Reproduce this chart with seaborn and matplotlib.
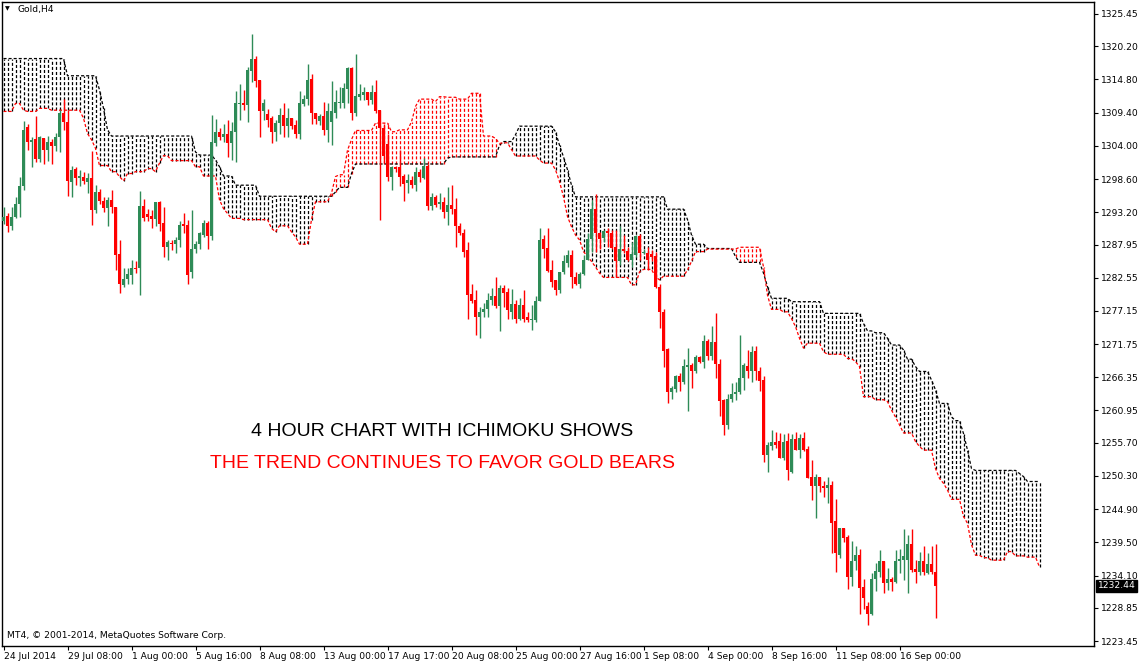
import numpy as np
import pandas as pd
import matplotlib
matplotlib.use("Agg")
import matplotlib.pyplot as plt
import matplotlib.transforms as mtransforms
import seaborn as sns

# ---------------- data (Gold, H4 candles) ----------------
opens = [
    1291.7, 1292.6, 1290.9, 1292.4, 1294.5, 1297.5, 1307.0, 1304.7, 1305.1, 1301.9,
    1305.3, 1303.3, 1304.7, 1303.9, 1305.4, 1309.3, 1307.9, 1298.2, 1300.2, 1298.7,
    1298.9, 1298.2, 1298.8, 1293.6, 1296.5, 1295.1, 1293.9, 1295.2, 1294.0, 1286.4,
    1281.4, 1282.3, 1283.0, 1284.2, 1284.1, 1294.2, 1292.9, 1292.6, 1292.1, 1294.8,
    1291.5, 1287.6, 1288.2, 1288.0, 1288.7, 1291.3, 1291.1, 1283.5, 1287.2, 1288.0,
    1289.5, 1291.5, 1289.3, 1304.5, 1306.3, 1305.5, 1306.0, 1304.4, 1306.3, 1310.8,
    1311.0, 1310.7, 1316.2, 1318.1, 1314.7, 1309.7, 1309.2, 1308.5, 1306.3, 1307.7,
    1309.0, 1307.2, 1308.6, 1307.4, 1305.9, 1310.8, 1311.7, 1314.8, 1309.3, 1308.1,
    1308.9, 1306.6, 1307.8, 1309.4, 1310.9, 1311.0, 1313.2, 1316.6, 1309.4, 1312.0,
    1312.3, 1312.7, 1311.5, 1312.8, 1309.8, 1306.9, 1304.3, 1299.0, 1300.6, 1300.5,
    1299.1, 1298.0, 1298.5, 1297.7, 1299.8, 1298.8, 1300.8, 1294.2, 1295.7, 1294.5,
    1294.9, 1293.3, 1294.4, 1293.8, 1291.0, 1289.9, 1287.0, 1279.9, 1278.9, 1276.2,
    1277.0, 1277.4, 1278.9, 1279.6, 1278.0, 1280.9, 1280.3, 1277.0, 1278.3, 1275.8,
    1278.1, 1276.2, 1275.7, 1275.7, 1278.8, 1288.9, 1287.4, 1283.8, 1282.1, 1280.5,
    1283.4, 1285.0, 1286.2, 1282.7, 1281.5, 1283.1, 1285.5, 1288.8, 1293.8, 1289.8,
    1289.0, 1290.2, 1289.9, 1287.6, 1285.2, 1287.2, 1286.9, 1285.4, 1286.2, 1289.3,
    1286.5, 1286.6, 1286.4, 1286.1, 1281.1, 1277.0, 1270.9, 1263.9, 1264.4, 1266.6,
    1265.6, 1268.1, 1268.4, 1267.3, 1269.6, 1268.9, 1272.3, 1269.8, 1272.1, 1268.5,
    1262.7, 1258.6, 1262.8, 1263.6, 1263.9, 1266.3, 1268.2, 1267.3, 1270.6, 1267.4,
    1265.9, 1253.7, 1255.2, 1255.8, 1256.0, 1253.3, 1256.0, 1251.0, 1256.3, 1254.5,
    1256.4, 1254.7, 1250.1, 1248.6, 1250.1, 1248.7, 1248.4, 1248.8, 1242.9, 1237.4,
    1241.8, 1240.3, 1233.9, 1236.4, 1237.4, 1232.3, 1229.1, 1227.8, 1233.5, 1234.7,
    1236.4, 1232.9, 1233.5, 1233.0, 1236.4, 1236.6, 1236.7, 1239.2, 1235.2, 1234.7,
    1236.5, 1234.5, 1236.0, 1234.6,
]
highs = [
    1294.0, 1293.1, 1294.0, 1295.6, 1299.0, 1308.0, 1307.6, 1305.4, 1308.9, 1305.6,
    1305.3, 1305.6, 1305.1, 1306.1, 1309.9, 1311.7, 1309.9, 1300.8, 1300.6, 1300.0,
    1299.8, 1299.6, 1303.2, 1297.6, 1296.9, 1295.7, 1295.6, 1296.8, 1294.1, 1288.7,
    1284.2, 1284.1, 1285.4, 1285.3, 1296.6, 1295.4, 1293.7, 1293.6, 1294.9, 1295.0,
    1294.1, 1288.7, 1288.7, 1289.2, 1291.7, 1293.1, 1291.9, 1293.6, 1288.6, 1290.0,
    1291.9, 1291.8, 1309.0, 1308.4, 1306.9, 1307.6, 1308.2, 1307.8, 1313.0, 1314.1,
    1313.1, 1316.9, 1322.2, 1318.6, 1314.7, 1311.6, 1310.0, 1308.9, 1308.2, 1310.1,
    1310.9, 1310.1, 1308.6, 1308.2, 1313.0, 1312.3, 1317.3, 1315.7, 1309.4, 1309.2,
    1311.2, 1310.9, 1314.6, 1313.1, 1313.6, 1314.2, 1316.9, 1316.9, 1318.9, 1314.1,
    1313.6, 1312.8, 1313.9, 1314.7, 1309.8, 1307.6, 1306.0, 1300.7, 1300.7, 1303.3,
    1299.4, 1299.5, 1299.1, 1300.6, 1300.3, 1302.0, 1301.0, 1296.3, 1296.0, 1296.3,
    1295.7, 1297.3, 1297.6, 1295.5, 1291.4, 1290.4, 1288.4, 1281.5, 1280.6, 1277.8,
    1278.5, 1280.0, 1280.8, 1282.6, 1281.4, 1281.4, 1280.8, 1280.7, 1278.9, 1279.2,
    1280.5, 1276.9, 1278.1, 1279.5, 1290.6, 1289.5, 1290.6, 1285.5, 1282.2, 1283.5,
    1286.2, 1287.1, 1287.1, 1283.5, 1283.5, 1286.2, 1289.8, 1295.2, 1296.2, 1290.0,
    1290.3, 1290.6, 1290.3, 1290.3, 1291.0, 1289.5, 1287.6, 1288.4, 1289.5, 1289.7,
    1287.2, 1287.6, 1287.1, 1286.8, 1281.6, 1277.4, 1271.1, 1264.9, 1266.7, 1267.1,
    1269.4, 1271.1, 1268.6, 1270.0, 1269.8, 1273.2, 1272.5, 1274.7, 1276.8, 1269.3,
    1262.8, 1263.7, 1265.4, 1265.6, 1273.2, 1268.7, 1270.8, 1271.4, 1271.4, 1268.0,
    1266.5, 1255.9, 1257.8, 1257.5, 1257.3, 1257.1, 1257.3, 1257.1, 1257.5, 1257.2,
    1257.5, 1255.1, 1252.9, 1250.6, 1250.1, 1249.4, 1250.1, 1249.4, 1246.5, 1241.9,
    1241.9, 1240.7, 1239.8, 1238.9, 1238.4, 1233.6, 1229.8, 1234.5, 1236.1, 1238.3,
    1236.5, 1235.3, 1233.9, 1238.3, 1238.4, 1241.7, 1240.7, 1241.6, 1236.6, 1238.0,
    1238.9, 1237.8, 1238.9, 1239.2,
]
lows = [
    1291.3, 1290.0, 1290.3, 1292.2, 1292.4, 1296.8, 1303.3, 1300.6, 1301.4, 1301.4,
    1301.0, 1301.5, 1301.0, 1303.2, 1303.0, 1306.5, 1295.8, 1295.6, 1297.7, 1297.5,
    1297.8, 1296.3, 1291.2, 1293.0, 1294.5, 1293.3, 1290.9, 1293.0, 1283.8, 1280.1,
    1281.1, 1281.5, 1281.5, 1283.3, 1279.7, 1291.8, 1291.7, 1290.7, 1290.9, 1290.2,
    1286.0, 1285.4, 1287.1, 1286.5, 1287.6, 1289.8, 1281.5, 1282.5, 1286.5, 1287.3,
    1289.2, 1287.3, 1288.7, 1304.0, 1305.0, 1304.7, 1302.2, 1301.7, 1301.4, 1308.2,
    1309.9, 1307.8, 1314.4, 1313.6, 1305.4, 1308.2, 1307.0, 1304.4, 1304.8, 1306.0,
    1305.4, 1305.4, 1306.8, 1305.2, 1305.1, 1310.5, 1310.6, 1307.6, 1307.6, 1307.4,
    1305.8, 1304.7, 1304.1, 1308.5, 1310.1, 1310.1, 1310.9, 1308.2, 1308.8, 1311.4,
    1311.5, 1310.6, 1310.8, 1309.3, 1291.9, 1301.2, 1298.3, 1296.8, 1299.8, 1297.4,
    1295.1, 1296.4, 1297.1, 1296.6, 1298.2, 1298.6, 1293.5, 1293.6, 1294.1, 1293.8,
    1292.2, 1291.1, 1292.9, 1287.5, 1289.5, 1286.0, 1275.8, 1278.4, 1273.2, 1272.7,
    1276.2, 1276.2, 1278.1, 1277.7, 1273.8, 1277.8, 1275.9, 1275.9, 1275.2, 1275.7,
    1275.4, 1275.4, 1274.0, 1275.4, 1278.7, 1285.7, 1283.5, 1281.1, 1279.7, 1280.1,
    1283.1, 1284.3, 1280.8, 1281.4, 1280.8, 1283.0, 1285.4, 1286.8, 1286.8, 1287.3,
    1288.3, 1287.6, 1287.3, 1282.7, 1284.6, 1286.5, 1285.2, 1284.3, 1286.0, 1285.4,
    1286.4, 1283.8, 1285.3, 1280.8, 1274.3, 1268.0, 1262.1, 1262.8, 1263.9, 1264.2,
    1265.3, 1260.9, 1264.6, 1267.1, 1268.7, 1267.8, 1269.1, 1269.1, 1266.2, 1260.1,
    1256.9, 1258.0, 1262.4, 1262.7, 1263.7, 1264.3, 1266.3, 1265.6, 1265.9, 1264.2,
    1252.5, 1251.0, 1254.5, 1254.8, 1253.3, 1252.9, 1249.6, 1250.8, 1254.5, 1253.3,
    1254.4, 1249.9, 1246.4, 1243.5, 1247.7, 1246.8, 1245.9, 1237.7, 1234.6, 1236.9,
    1239.6, 1231.9, 1232.4, 1235.0, 1227.8, 1228.6, 1226.0, 1227.7, 1231.6, 1233.9,
    1231.3, 1231.7, 1231.6, 1232.9, 1234.5, 1233.4, 1231.3, 1234.7, 1232.9, 1234.2,
    1234.2, 1234.3, 1234.3, 1227.2,
]
closes = [
    1292.5, 1290.9, 1292.4, 1294.5, 1297.5, 1306.6, 1304.7, 1305.0, 1301.9, 1305.4,
    1303.3, 1304.7, 1303.9, 1305.5, 1309.4, 1307.8, 1298.3, 1300.1, 1298.8, 1299.1,
    1298.3, 1298.8, 1293.6, 1296.5, 1295.1, 1293.9, 1295.2, 1294.0, 1286.2, 1281.5,
    1282.4, 1283.1, 1284.2, 1284.0, 1294.2, 1292.3, 1292.5, 1292.1, 1294.8, 1291.3,
    1287.6, 1288.4, 1288.0, 1288.7, 1291.1, 1291.0, 1283.0, 1287.3, 1288.0, 1289.8,
    1291.5, 1289.3, 1304.6, 1306.3, 1305.5, 1306.0, 1304.4, 1306.4, 1310.9, 1311.0,
    1310.6, 1316.3, 1318.1, 1314.5, 1309.7, 1310.9, 1308.2, 1306.3, 1307.7, 1309.0,
    1307.2, 1308.6, 1307.2, 1305.9, 1310.9, 1311.7, 1314.7, 1309.3, 1308.3, 1308.9,
    1306.6, 1309.6, 1309.6, 1311.2, 1311.2, 1313.4, 1316.6, 1309.4, 1312.1, 1312.5,
    1312.7, 1311.5, 1312.8, 1309.6, 1306.9, 1302.4, 1299.0, 1300.6, 1300.2, 1298.9,
    1297.8, 1298.5, 1297.7, 1299.8, 1298.9, 1300.8, 1294.2, 1295.7, 1294.4, 1294.9,
    1293.3, 1294.4, 1293.8, 1290.9, 1289.9, 1286.8, 1279.7, 1278.8, 1276.2, 1277.0,
    1277.4, 1278.9, 1279.6, 1278.0, 1280.8, 1280.1, 1277.3, 1278.3, 1275.8, 1278.1,
    1275.9, 1275.7, 1275.8, 1278.8, 1288.7, 1287.3, 1283.7, 1281.8, 1280.6, 1283.5,
    1285.2, 1286.2, 1282.6, 1281.5, 1283.1, 1285.5, 1288.8, 1293.7, 1289.8, 1288.8,
    1290.2, 1289.9, 1287.4, 1285.2, 1287.3, 1286.9, 1285.4, 1286.4, 1289.3, 1286.6,
    1286.7, 1285.4, 1285.9, 1281.0, 1276.9, 1270.7, 1263.9, 1264.6, 1266.5, 1265.6,
    1268.2, 1268.4, 1267.4, 1269.6, 1268.9, 1272.3, 1269.8, 1272.1, 1268.5, 1262.5,
    1258.6, 1262.9, 1263.7, 1264.0, 1266.3, 1268.4, 1267.3, 1270.5, 1267.4, 1265.8,
    1253.7, 1255.3, 1255.9, 1255.3, 1253.3, 1255.9, 1251.2, 1256.3, 1254.6, 1256.4,
    1254.5, 1250.0, 1248.6, 1250.1, 1248.6, 1248.4, 1248.8, 1242.7, 1237.7, 1241.8,
    1240.2, 1233.9, 1236.5, 1237.4, 1232.1, 1230.4, 1227.9, 1233.5, 1234.8, 1236.4,
    1232.9, 1233.5, 1233.1, 1236.5, 1236.8, 1237.2, 1239.2, 1235.0, 1234.7, 1236.5,
    1234.6, 1236.0, 1234.6, 1232.44,
]

# Ichimoku Senkou Span A (red) and Span B (black), read as runs of equal level
span_a_levels = [
    1309.6, 1310.9, 1309.8, 1309.6, 1310.1, 1309.8, 1308.5, 1306.0, 1305.0, 1303.6,
    1300.8, 1299.8, 1299.0, 1298.3, 1299.5, 1299.8, 1300.3, 1299.8, 1301.2, 1302.4,
    1301.6, 1300.6, 1299.1, 1295.2, 1293.8, 1293.0, 1292.2, 1292.0, 1290.6, 1290.0,
    1291.0, 1290.0, 1289.2, 1288.0, 1292.0, 1294.9, 1296.3, 1299.0, 1299.3, 1303.3,
    1305.0, 1306.5, 1307.7, 1306.3, 1306.6, 1307.9, 1310.4, 1311.6, 1311.2, 1312.0,
    1311.9, 1311.6, 1312.55, 1305.6, 1305.2, 1304.4, 1304.5, 1303.4, 1302.35, 1301.7,
    1301.2, 1300.1, 1298.2, 1295.7, 1292.5, 1290.85, 1289.5, 1288.7, 1286.8, 1286.0,
    1285.2, 1284.3, 1283.3, 1282.6, 1281.4, 1283.5, 1283.9, 1282.7, 1282.2, 1282.8,
    1283.8, 1285.2, 1286.8, 1287.2, 1287.5, 1284.3, 1279.7, 1277.4, 1277.0, 1275.9,
    1274.6, 1272.7, 1271.1, 1271.9, 1270.5, 1270.1, 1269.4, 1268.9, 1268.1, 1263.2,
    1262.7, 1262.4, 1261.0, 1259.9, 1258.6, 1257.3, 1255.9, 1255.1, 1254.5, 1251.5,
    1249.9, 1249.1, 1248.0, 1246.5, 1243.7, 1242.6, 1239.1, 1237.4, 1237.0, 1236.6,
    1238.0, 1237.3, 1237.1, 1235.5,
]
span_a_lengths = [
    3, 2, 1, 3, 3, 8, 1, 1, 1, 1,
    3, 2, 1, 1, 2, 3, 2, 1, 1, 2,
    6, 2, 4, 1, 1, 1, 3, 7, 1, 1,
    3, 1, 1, 3, 1, 4, 1, 1, 2, 1,
    1, 5, 4, 2, 3, 1, 1, 4, 1, 2,
    3, 3, 3, 3, 1, 1, 2, 1, 6, 1,
    3, 1, 1, 1, 1, 1, 1, 1, 1, 1,
    1, 1, 1, 7, 2, 1, 3, 1, 1, 6,
    1, 1, 3, 8, 6, 1, 1, 3, 2, 1,
    1, 1, 1, 4, 1, 5, 2, 1, 1, 3,
    3, 1, 1, 1, 1, 3, 1, 1, 3, 1,
    1, 1, 1, 3, 1, 1, 1, 2, 2, 4,
    2, 3, 3, 1,
]
span_b_levels = [
    1318.2, 1315.4, 1313.1, 1310.1, 1306.6, 1305.6, 1303.0, 1302.5, 1301.7, 1300.6,
    1299.1, 1297.6, 1295.8, 1296.5, 1297.25, 1299.5, 1301.05, 1302.0, 1302.2, 1304.1,
    1304.7, 1305.8, 1307.2, 1306.3, 1304.1, 1302.2, 1300.1, 1297.6, 1295.7, 1293.7,
    1292.0, 1289.5, 1288.0, 1287.3, 1286.0, 1285.05, 1283.3, 1281.1, 1279.2, 1278.65,
    1276.75, 1275.1, 1273.9, 1273.6, 1272.7, 1271.6, 1270.8, 1269.3, 1268.1, 1267.3,
    1265.9, 1264.3, 1262.1, 1259.9, 1259.3, 1257.2, 1254.5, 1251.5, 1251.2, 1250.7,
    1250.2, 1249.4,
]
span_b_lengths = [
    16, 8, 1, 1, 1, 21, 1, 4, 1, 1,
    3, 6, 19, 1, 3, 1, 23, 1, 12, 1,
    3, 1, 9, 1, 1, 1, 1, 1, 23, 5,
    1, 1, 3, 7, 1, 6, 1, 1, 5, 8,
    10, 1, 2, 3, 1, 3, 1, 2, 1, 3,
    1, 1, 3, 1, 2, 1, 1, 1, 11, 1,
    1, 4,
]

ytick_values = [1325.45, 1320.20, 1314.80, 1309.40, 1304.00, 1298.60, 1293.20,
                1287.95, 1282.55, 1277.15, 1271.75, 1266.35, 1260.95, 1255.70,
                1250.30, 1244.90, 1239.50, 1234.10, 1228.85, 1223.45]
ytick_labels = ["%.2f" % v for v in ytick_values]
xtick_bars = [0, 16, 32, 48, 64, 80, 96, 112, 128, 144, 160, 176, 192, 208, 224]
xtick_labels = ["24 Jul 2014", "29 Jul 08:00", "1 Aug 00:00", "5 Aug 16:00",
                "8 Aug 08:00", "13 Aug 00:00", "17 Aug 17:00", "20 Aug 08:00",
                "25 Aug 00:00", "27 Aug 16:00", "1 Sep 08:00", "4 Sep 00:00",
                "8 Sep 16:00", "11 Sep 08:00", "16 Sep 00:00"]
last_price = 1232.44

# ---------------- drawing ----------------
sns.set_style("white")
plt.rcParams['font.family'] = ['DejaVu Sans']
plt.rcParams['lines.scale_dashes'] = False

W, H = 1142, 663
fig = plt.figure(figsize=(W / 100, H / 100), dpi=100)
ax = fig.add_axes([2 / W, 17 / H, 1092 / W, 644 / H])

GREEN = "#2E8B57"
RED = "#FF0000"
DASH = (0, (2.2, 1.45))

o = np.array(opens)
hi = np.array(highs)
lo = np.array(lows)
c = np.array(closes)
xb = np.arange(len(o))
candle_col = np.where(c >= o, GREEN, RED)

span_a = np.repeat(span_a_levels, span_a_lengths)
span_b = np.repeat(span_b_levels, span_b_lengths)
xs = np.arange(len(span_a))
cloud = pd.DataFrame({"bar": xs, "span_a": span_a, "span_b": span_b})

# cloud hatching: dotted verticals coloured after the upper line
hatch_col = np.where(span_a > span_b, RED, "black")
ax.vlines(xs, np.minimum(span_a, span_b), np.maximum(span_a, span_b),
          colors=hatch_col, linestyles=[DASH], linewidth=0.9, zorder=1)
sns.lineplot(data=cloud, x="bar", y="span_b", color="black", linewidth=0.9,
             linestyle=DASH, ax=ax, zorder=2)
sns.lineplot(data=cloud, x="bar", y="span_a", color=RED, linewidth=0.9,
             linestyle=DASH, ax=ax, zorder=2)

# candles
ax.vlines(xb, lo, hi, colors=candle_col, linewidth=1.0, zorder=3)
ax.bar(xb, np.maximum(np.abs(c - o), 0.17), bottom=np.minimum(o, c), width=0.75,
       color=candle_col, linewidth=0, zorder=4)

ax.set_xlim(-0.375, 272.625)
ax.set_ylim(1222.64, 1327.40)
ax.set_xlabel("")
ax.set_ylabel("")

ax.yaxis.tick_right()
ax.set_yticks(ytick_values)
ax.set_yticklabels(ytick_labels)
ax.tick_params(axis="y", direction="out", length=3, width=0.8, pad=2,
               labelsize=6.6, colors="black", right=True, left=False)
ax.set_xticks(xtick_bars)
ax.set_xticklabels(xtick_labels)
ax.tick_params(axis="x", direction="out", length=3, width=0.8, pad=1.5,
               labelsize=6.6, colors="black", bottom=True)
for lbl in ax.get_xticklabels():
    lbl.set_horizontalalignment("left")
for s in ax.spines.values():
    s.set_visible(True)
    s.set_color("black")
    s.set_linewidth(1.0)

# last price marker on the price scale
trans = mtransforms.blended_transform_factory(ax.transAxes, ax.transData)
ax.text(1.0035, last_price, "%.2f" % last_price, transform=trans, color="white",
        fontsize=6.6, ha="left", va="center", clip_on=False, zorder=10,
        bbox=dict(boxstyle="square,pad=0.18", fc="black", ec="black"))

# header and footer texts
fig.text(5 / W, 1 - 9 / H, "\u25BC", fontsize=4.5, color="black",
         ha="left", va="center")
fig.text(17 / W, 1 - 9.5 / H, "Gold,H4", fontsize=6.6, color="black",
         ha="left", va="center")
fig.text(7 / W, 1 - 636 / H, "MT4, \u00A9 2001-2014, MetaQuotes Software Corp.",
         fontsize=6.6, color="black", ha="left", va="center")

# annotations
fig.text(442 / W, 1 - 432 / H, "4 HOUR CHART WITH ICHIMOKU SHOWS",
         fontsize=14, color="black", ha="center", va="center",
         family=["Liberation Sans", "DejaVu Sans"])
fig.text(443 / W, 1 - 464 / H, "THE TREND CONTINUES TO FAVOR GOLD BEARS",
         fontsize=14, color=RED, ha="center", va="center",
         family=["Liberation Sans", "DejaVu Sans"])

fig.savefig("out.png", dpi=100, facecolor="white")
